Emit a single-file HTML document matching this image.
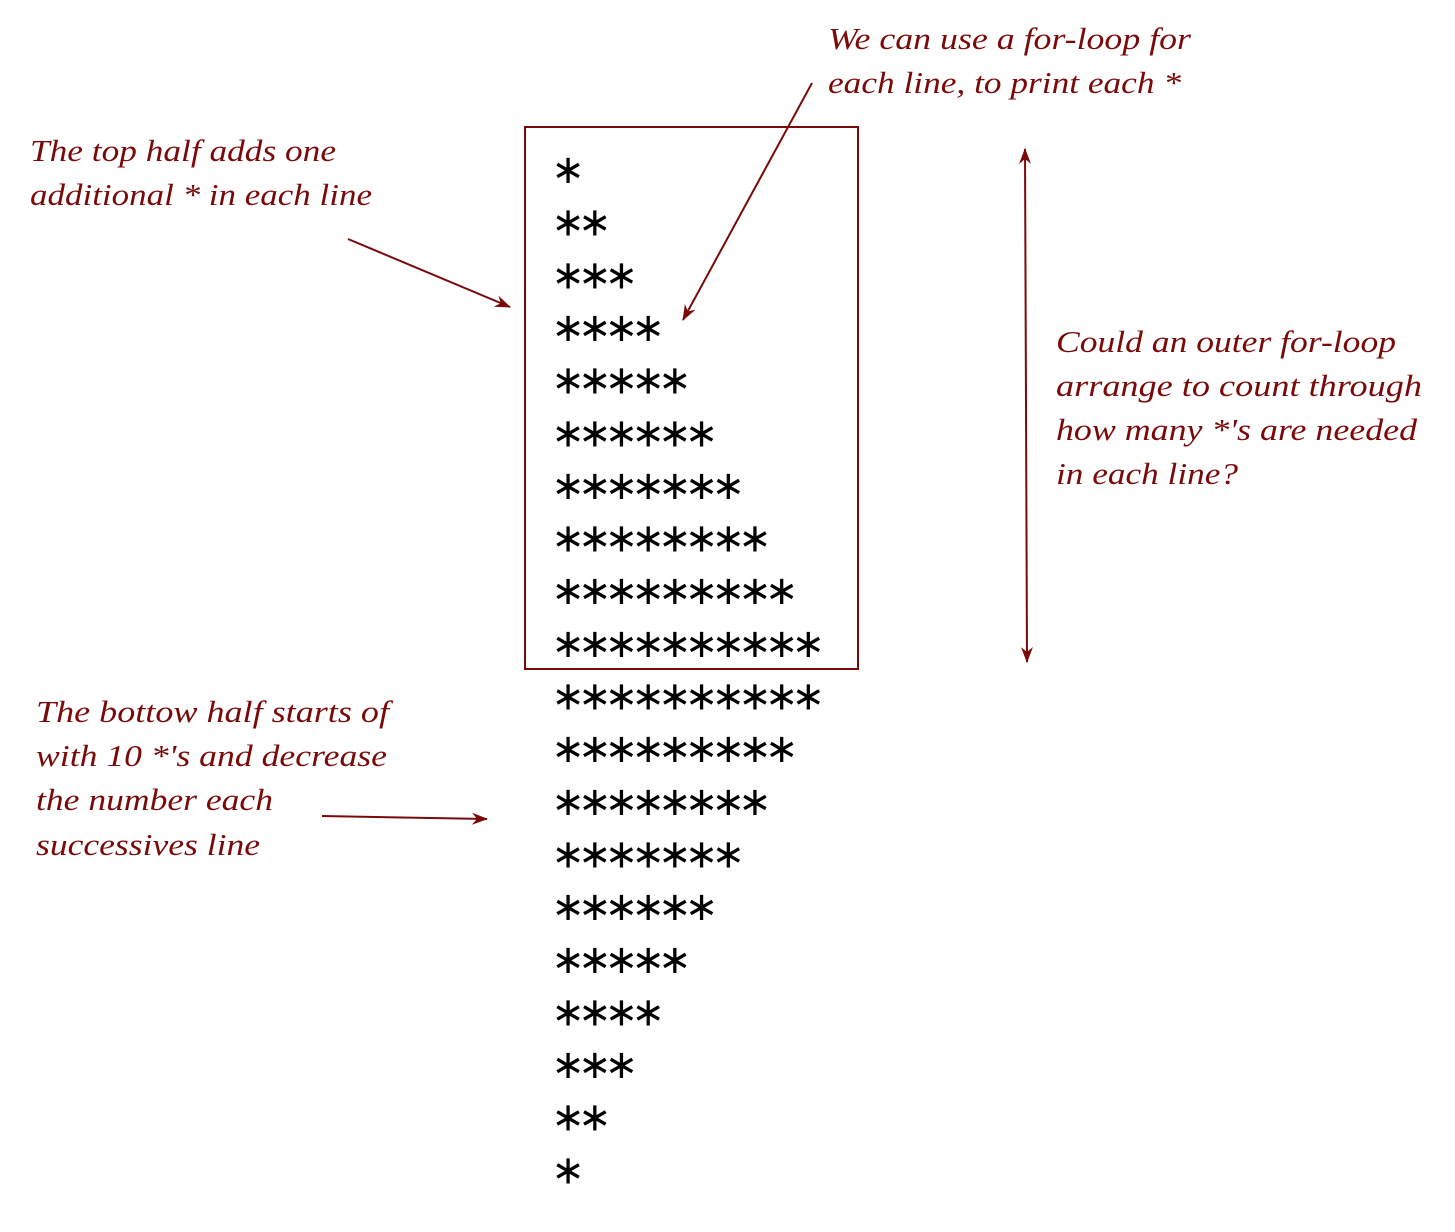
<!DOCTYPE html>
<html><head><meta charset="utf-8"><style>
html,body{margin:0;padding:0;background:#fff;}
svg{display:block;}
.note{font-family:"Liberation Serif",serif;font-style:italic;font-size:31px;fill:#7a0a0a;}
.star{font-family:"DejaVu Sans",sans-serif;font-size:40px;fill:#000;}
</style></head><body>
<svg id="fig" width="1455" height="1232" viewBox="0 0 1455 1232" xmlns="http://www.w3.org/2000/svg">
<defs>
<marker id="ah" markerWidth="16" markerHeight="12" refX="15" refY="6" orient="auto-start-reverse" markerUnits="userSpaceOnUse">
<path d="M0,0 L16,6 L0,12 L5,6 Z" fill="#7a0a0a"/>
</marker>
</defs>
<rect x="525" y="127" width="333" height="542" fill="none" stroke="#7a0a0a" stroke-width="2"/>
<g id="stars"></g>

<line x1="348" y1="239" x2="510" y2="307" stroke="#7a0a0a" stroke-width="2" marker-end="url(#ah)"/>
<line x1="812" y1="83" x2="683" y2="320" stroke="#7a0a0a" stroke-width="2" marker-end="url(#ah)"/>
<line x1="1025" y1="149" x2="1027" y2="662" stroke="#7a0a0a" stroke-width="2" marker-start="url(#ah)" marker-end="url(#ah)"/>
<line x1="322" y1="816" x2="487" y2="819" stroke="#7a0a0a" stroke-width="2" marker-end="url(#ah)"/>

<g>
<text class="note" x="828" y="49" textLength="363" lengthAdjust="spacingAndGlyphs">We can use a for-loop for</text>
<text class="note" x="828" y="93" textLength="353" lengthAdjust="spacingAndGlyphs">each line, to print each *</text>
</g>
<g>
<text class="note" x="30" y="161" textLength="306" lengthAdjust="spacingAndGlyphs">The top half adds one</text>
<text class="note" x="30" y="205" textLength="342" lengthAdjust="spacingAndGlyphs">additional * in each line</text>
</g>
<g>
<text class="note" x="1056" y="352" textLength="340" lengthAdjust="spacingAndGlyphs">Could an outer for-loop</text>
<text class="note" x="1056" y="396" textLength="366" lengthAdjust="spacingAndGlyphs">arrange to count through</text>
<text class="note" x="1056" y="440" textLength="361" lengthAdjust="spacingAndGlyphs">how many *'s are needed</text>
<text class="note" x="1056" y="484" textLength="182" lengthAdjust="spacingAndGlyphs">in each line?</text>
</g>
<g>
<text class="note" x="36" y="722" textLength="353" lengthAdjust="spacingAndGlyphs">The bottow half starts of</text>
<text class="note" x="36" y="766" textLength="351" lengthAdjust="spacingAndGlyphs">with 10 *'s and decrease</text>
<text class="note" x="36" y="810" textLength="237" lengthAdjust="spacingAndGlyphs">the number each</text>
<text class="note" x="36" y="855" textLength="224" lengthAdjust="spacingAndGlyphs">successives line</text>
</g>
</svg>
<script>
const counts = [1,2,3,4,5,6,7,8,9,10,10,9,8,7,6,5,4,3,2,1];
const x0 = 568, pitch = 26.7, y0 = 170, rowStep = 52.65;
const g = document.getElementById('stars');
const NS = 'http://www.w3.org/2000/svg';
counts.forEach((n, r) => {
  const row = document.createElementNS(NS, 'g');
  
  
  for (let i = 0; i < n; i++) {
    const t = document.createElementNS(NS, 'text');
    t.setAttribute('class', 'star');
    t.setAttribute('x', x0 + i * pitch);
    t.setAttribute('y', y0 + r * rowStep + 13);
    t.setAttribute('text-anchor', 'middle');
    
    
    t.textContent = '\u2217';
    row.appendChild(t);
  }
  g.appendChild(row);
});
</script>
</body></html>
